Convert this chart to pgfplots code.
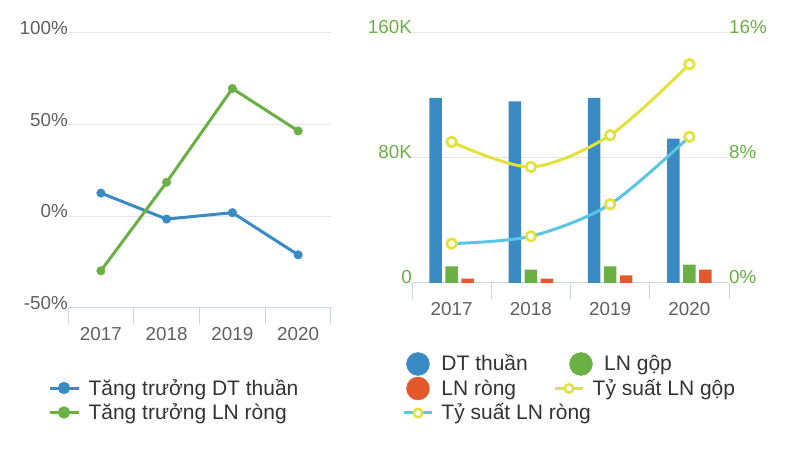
\documentclass[border=0pt]{standalone}
\usepackage{fontspec}
\setmainfont{Liberation Sans}
\usepackage{pgfplots}
\pgfplotsset{compat=1.18}

\definecolor{dtblue}{RGB}{58,139,196}
\definecolor{lngreen}{RGB}{106,176,68}
\definecolor{lnorange}{RGB}{227,89,44}
\definecolor{yel}{RGB}{226,226,58}
\definecolor{cya}{RGB}{90,198,228}
\definecolor{axisc}{RGB}{204,214,235}
\definecolor{gridc}{RGB}{230,230,230}
\definecolor{tickc}{RGB}{96,96,96}
\definecolor{legc}{RGB}{51,51,51}
\definecolor{labgreen}{RGB}{106,176,68}

\newcommand{\tickfont}{\fontsize{18.8}{22}\selectfont}
\newcommand{\legfont}{\fontsize{21}{24}\selectfont}

\pgfplotsset{
  mylegend/.style={legend style={draw=none, fill=none, inner sep=0pt, outer sep=0pt,
    row sep=0pt, column sep=0pt, font=\legfont, text=legc,
    nodes={inner sep=0pt, outer sep=0pt, text height=19.5pt, text depth=5pt, anchor=base west}}},
  catx/.style={
    xmin=0.5, xmax=4.5,
    xtick={1,2,3,4}, xticklabels={2017,2018,2019,2020},
    minor xtick={0.5,1.5,2.5,3.5,4.5},
    major tick length=0pt, minor tick length=16pt, tick align=outside,
    minor tick style={draw=axisc, line width=1pt},
    axis x line*=bottom, axis y line*=left,
    axis line style={-},
    x axis line style={draw=axisc, line width=1pt},
    y axis line style={draw=none},
    ymajorgrids, major grid style={draw=gridc, line width=1pt},
    xticklabel style={anchor=base, yshift=-33pt, inner sep=0pt, text=tickc, font=\tickfont},
  }
}

\begin{document}
\begin{tikzpicture}
\useasboundingbox (0,0) rectangle (800pt,449pt);

% ---------------- left chart ----------------
\begin{axis}[
  at={(68pt,141pt)}, anchor=south west, scale only axis,
  width=263pt, height=275pt,
  catx,
  ymin=-50, ymax=100,
  ytick={-50,0,50,100}, yticklabels={-50\%,0\%,50\%,100\%},
  yticklabel style={anchor=base east, yshift=-1.5pt, inner sep=0pt, text=tickc, font=\tickfont},
  mylegend,
  legend style={at={(-0.076,-0.2455)}, anchor=north west},
  legend columns=1,
]
\addplot[dtblue, line width=3pt, mark=*, mark size=4.2pt,
  mark options={solid, fill=dtblue, draw=dtblue, line width=0.6pt},
  legend image code/.code={
    \path[draw=none, fill=none] (-14.5pt,-5pt) rectangle (24.5pt,19.5pt);
    \draw[line width=3pt, dtblue] (-14.5pt,7pt) -- (14.5pt,7pt);
    \fill[dtblue] (0pt,7pt) circle (4.6pt);
  }] coordinates {(1,12.7) (2,-1.5) (3,2.0) (4,-21.0)};
\addlegendentry{Tăng trưởng DT thuần}
\addplot[lngreen, line width=3pt, mark=*, mark size=4.2pt,
  mark options={solid, fill=lngreen, draw=lngreen, line width=0.6pt},
  legend image code/.code={
    \path[draw=none, fill=none] (-14.5pt,-5pt) rectangle (24.5pt,19.5pt);
    \draw[line width=3pt, lngreen] (-14.5pt,7pt) -- (14.5pt,7pt);
    \fill[lngreen] (0pt,7pt) circle (4.6pt);
  }] coordinates {(1,-29.7) (2,18.6) (3,69.7) (4,46.6)};
\addlegendentry{Tăng trưởng LN ròng}
\end{axis}

% ---------------- right chart: bars ----------------
\begin{axis}[
  at={(412pt,166pt)}, anchor=south west, scale only axis,
  width=317pt, height=250pt,
  catx,
  ymin=0, ymax=160000, scaled y ticks=false,
  ytick={0,80000,160000}, yticklabels={0,80K,160K},
  yticklabel style={anchor=base east, yshift=-0.5pt, inner sep=0pt, text=labgreen, font=\tickfont},
]
\addplot[ybar, bar width=12.6pt, bar shift=-16pt, fill=dtblue, draw=none]
  coordinates {(1,118400) (2,116300) (3,118400) (4,92400)};
\addplot[ybar, bar width=12.6pt, bar shift=0pt, fill=lngreen, draw=none]
  coordinates {(1,10700) (2,8600) (3,10700) (4,11800)};
\addplot[ybar, bar width=12.6pt, bar shift=16pt, fill=lnorange, draw=none]
  coordinates {(1,2800) (2,2800) (3,4900) (4,8600)};
\end{axis}

% ---------------- right chart: ratio lines ----------------
\begin{axis}[
  at={(412pt,166pt)}, anchor=south west, scale only axis,
  width=317pt, height=250pt,
  xmin=0.5, xmax=4.5, hide x axis,
  ymin=0, ymax=16,
  axis y line*=right, y axis line style={draw=none},
  major tick length=0pt,
  ytick={0,8,16}, yticklabels={0\%,8\%,16\%},
  yticklabel style={anchor=base west, yshift=-0.5pt, inner sep=0pt, text=labgreen, font=\tickfont},
  mylegend,
  legend style={at={(-0.030,-0.274)}, anchor=north west},
  legend columns=2,
]
\addlegendimage{legend image code/.code={
    \path[draw=none, fill=none] (-14pt,-5pt) rectangle (23.5pt,19.5pt);
    \fill[dtblue] (0pt,7pt) circle (11.5pt);}}
\addlegendentry{\makebox[112pt][l]{DT thuần}}
\addlegendimage{legend image code/.code={
    \path[draw=none, fill=none] (-20pt,-5pt) rectangle (17.5pt,19.5pt);
    \fill[lngreen] (6pt,7pt) circle (11.5pt);}}
\addlegendentry{\hspace*{11.5pt}LN gộp}
\addlegendimage{legend image code/.code={
    \path[draw=none, fill=none] (-14pt,-5pt) rectangle (23.5pt,19.5pt);
    \fill[lnorange] (0pt,7pt) circle (11.5pt);}}
\addlegendentry{\makebox[112pt][l]{LN ròng}}
\addplot[yel, line width=3pt, smooth, mark=*, mark size=4.8pt,
  mark options={solid, fill=white, draw=yel, line width=2.7pt},
  legend image code/.code={
    \path[draw=none, fill=none] (-20pt,-5pt) rectangle (17.5pt,19.5pt);
    \draw[line width=3pt, yel] (-20pt,7pt) -- (8pt,7pt);
    \draw[line width=2.5pt, yel, fill=white] (-6pt,7pt) circle (4.3pt);
  }] coordinates {(1,9.03) (2,7.43) (3,9.46) (4,14.0)};
\addlegendentry{Tỷ suất LN gộp}
\addplot[cya, line width=3pt, smooth, mark=*, mark size=4.8pt,
  mark options={solid, fill=white, draw=yel, line width=2.7pt},
  legend image code/.code={
    \path[draw=none, fill=none] (-14pt,-5pt) rectangle (23.5pt,19.5pt);
    \draw[line width=3pt, cya] (-14pt,7pt) -- (14pt,7pt);
    \draw[line width=2.5pt, yel, fill=white] (0pt,7pt) circle (4.3pt);
  }] coordinates {(1,2.52) (2,2.99) (3,5.04) (4,9.36)};
\addlegendentry{\makebox[112pt][l]{Tỷ suất LN ròng}}
\end{axis}
\end{tikzpicture}
\end{document}
